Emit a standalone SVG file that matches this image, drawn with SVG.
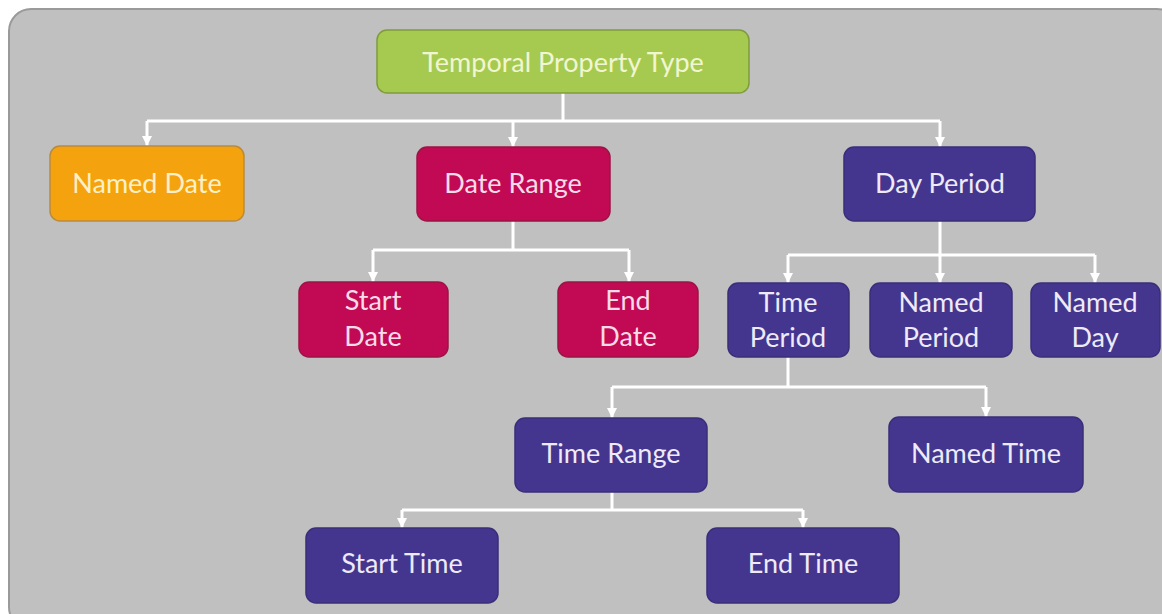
<svg xmlns="http://www.w3.org/2000/svg" width="1162" height="614" viewBox="0 0 1162 614">
<defs>
<marker id="ah" viewBox="0 0 10 10" refX="10" refY="5" markerWidth="10" markerHeight="10" markerUnits="userSpaceOnUse" orient="auto">
<path d="M0,0 L10,5 L0,10 Z" fill="#ffffff"/>
</marker>
</defs>
<style>
.bg{fill:#c0c0c0;stroke:#9a9a9a;stroke-width:2}
.n{stroke-width:1.5}
.green{fill:#a6ca4f;stroke:#7f9c3d}
.orange{fill:#f4a30e;stroke:#b98a3c}
.red{fill:#c10a53;stroke:#9c1444}
.purple{fill:#44368f;stroke:#3a2e7a}
text{font-family:Lato,"Open Sans","Liberation Sans",sans-serif;font-size:27px;text-anchor:middle}
.tg{fill:#f1f6d2}
.to{fill:#fdf0c9}
.tr{fill:#f9dbe9}
.tp{fill:#eeeaf7}
.c{fill:none;stroke:#ffffff;stroke-width:3}
.a{fill:none;stroke:#ffffff;stroke-width:3;marker-end:url(#ah)}
</style>
<rect class="bg" x="9" y="9" width="1170" height="620" rx="22"/>
<g id="connectors">
<path class="c" d="M563,93 V121 M147,121 H940"/>
<path class="a" d="M147,121 V146"/>
<path class="a" d="M513,121 V147"/>
<path class="a" d="M940,121 V147"/>
<path class="c" d="M513,221 V250 M373,250 H629"/>
<path class="a" d="M373,250 V282"/>
<path class="a" d="M629,250 V282"/>
<path class="c" d="M940,221 V255 M788,255 H1095"/>
<path class="a" d="M788,255 V283"/>
<path class="a" d="M940,255 V283"/>
<path class="a" d="M1095,255 V283"/>
<path class="c" d="M788,357 V387 M612,387 H986"/>
<path class="a" d="M612,387 V418"/>
<path class="a" d="M986,387 V417"/>
<path class="c" d="M612,492 V510 M402,510 H803"/>
<path class="a" d="M402,510 V528"/>
<path class="a" d="M803,510 V528"/>
</g>
<g id="temporal-property-type"><rect class="n green" x="377" y="30" width="372" height="63" rx="10"/><text class="tg" x="563" y="72">Temporal Property Type</text></g>
<g id="named-date"><rect class="n orange" x="50" y="146" width="194" height="75" rx="10"/><text class="to" x="147" y="193">Named Date</text></g>
<g id="date-range"><rect class="n red" x="417" y="147" width="193" height="74" rx="10"/><text class="tr" x="513" y="193">Date Range</text></g>
<g id="day-period"><rect class="n purple" x="844" y="147" width="191" height="74" rx="10"/><text class="tp" x="940" y="193">Day Period</text></g>
<g id="start-date"><rect class="n red" x="299" y="282" width="149" height="75" rx="10"/><text class="tr" x="373" y="310">Start</text><text class="tr" x="373" y="346">Date</text></g>
<g id="end-date"><rect class="n red" x="558" y="282" width="140" height="75" rx="10"/><text class="tr" x="628" y="310">End</text><text class="tr" x="628" y="346">Date</text></g>
<g id="time-period"><rect class="n purple" x="728" y="283" width="121" height="74" rx="10"/><text class="tp" x="788" y="312">Time</text><text class="tp" x="788" y="347">Period</text></g>
<g id="named-period"><rect class="n purple" x="870" y="283" width="142" height="74" rx="10"/><text class="tp" x="941" y="312">Named</text><text class="tp" x="941" y="347">Period</text></g>
<g id="named-day"><rect class="n purple" x="1031" y="283" width="129" height="74" rx="10"/><text class="tp" x="1095" y="312">Named</text><text class="tp" x="1095" y="347">Day</text></g>
<g id="time-range"><rect class="n purple" x="515" y="418" width="192" height="74" rx="10"/><text class="tp" x="611" y="463">Time Range</text></g>
<g id="named-time"><rect class="n purple" x="889" y="417" width="194" height="75" rx="10"/><text class="tp" x="986" y="463">Named Time</text></g>
<g id="start-time"><rect class="n purple" x="306" y="528" width="192" height="75" rx="10"/><text class="tp" x="402" y="573">Start Time</text></g>
<g id="end-time"><rect class="n purple" x="707" y="528" width="192" height="75" rx="10"/><text class="tp" x="803" y="573">End Time</text></g>
</svg>
